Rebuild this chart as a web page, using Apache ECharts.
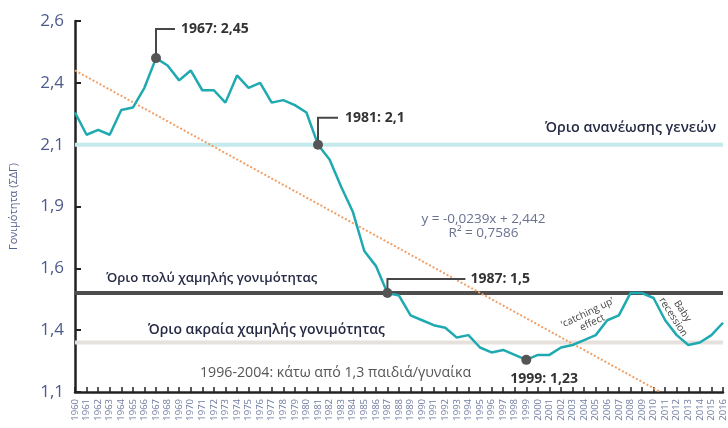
<!DOCTYPE html>
<html><head><meta charset="utf-8">
<script src="https://cdn.jsdelivr.net/npm/echarts@6/dist/echarts.min.js"></script>
<style>html,body{margin:0;padding:0;background:#fff}#c{width:728px;height:428px}</style>
</head><body><div id="c"></div>
<script>
// ---- data ----
const years = [1960,1961,1962,1963,1964,1965,1966,1967,1968,1969,
  1970,1971,1972,1973,1974,1975,1976,1977,1978,1979,
  1980,1981,1982,1983,1984,1985,1986,1987,1988,1989,
  1990,1991,1992,1993,1994,1995,1996,1997,1998,1999,
  2000,2001,2002,2003,2004,2005,2006,2007,2008,2009,
  2010,2011,2012,2013,2014,2015,2016];
const tfr = [2.23,2.14,2.16,2.14,2.24,2.25,2.33,2.45,2.42,2.36,
  2.40,2.32,2.32,2.27,2.38,2.33,2.35,2.27,2.28,2.26,
  2.23,2.10,2.04,1.93,1.83,1.67,1.61,1.50,1.49,1.41,
  1.39,1.37,1.36,1.32,1.33,1.28,1.26,1.27,1.25,1.23,
  1.25,1.25,1.28,1.29,1.31,1.33,1.39,1.41,1.50,1.50,
  1.48,1.39,1.33,1.29,1.30,1.33,1.38];
const yTickLabels = ['1,1','1,4','1,6','1,9','2,1','2,4','2,6'];
const thresholdValues = [2.1, 1.5, 1.3];
const thresholdLabels = ['Όριο ανανέωσης γενεών','Όριο πολύ χαμηλής γονιμότητας','Όριο ακραία χαμηλής γονιμότητας'];
const trendX = [1960, 2010.6];
const trendY = [2.40, 1.10];
const calloutYears = [1967, 1981, 1987, 1999];
const calloutValues = [2.45, 2.10, 1.50, 1.23];
const calloutLabels = ['1967: 2,45','1981: 2,1','1987: 1,5','1999: 1,23'];
const trendText = 'y = -0,0239x + 2,442\nR² = 0,7586';
const periodText = '1996-2004: κάτω από 1,3 παιδιά/γυναίκα';
const catchText = '\u2018catching up\u2019\neffect';
const babyText = 'Baby\nrecession';

// ---- styles ----
const FONT = '"Open Sans", "Noto Sans", sans-serif';
const thresholdColors = ['#c4eaec', '#4d4d4d', '#e6e1dc'];
const calloutStyle = [
  {rise: 29, run: 19, tx: 25, ty: -29},
  {rise: 27, run: 20, tx: 27, ty: -27},
  {rise: 14, run: 78, tx: 83, ty: -14},
  {rise: 0, run: 0, tx: -16, ty: 19}
];

const chart = echarts.init(document.getElementById('c'), null, {renderer: 'canvas'});
const series = [];
thresholdValues.forEach((v, i) => {
  series.push({
    type: 'line', silent: true, symbol: 'none', z: 1,
    data: [[years[0], v], [years[years.length - 1], v]],
    lineStyle: {color: thresholdColors[i], width: 4}
  });
});
series.push({
  type: 'line', silent: true, symbol: 'none', z: 2,
  data: trendX.map((x, i) => [x, trendY[i]]),
  lineStyle: {color: '#f0a066', width: 2, type: [2, 2]}
});
series.push({
  type: 'line', symbol: 'none', z: 3,
  data: years.map((y, i) => [y, tfr[i]]),
  lineStyle: {color: '#1fa9b0', width: 2.5}
});
series.push({
  type: 'custom', z: 4,
  data: calloutYears.map((y, i) => [y, calloutValues[i]]),
  renderItem: function (params, api) {
    const i = params.dataIndex;
    const p = api.coord([api.value(0), api.value(1)]);
    const c = calloutStyle[i];
    const ch = [];
    if (c.rise) {
      ch.push({type: 'polyline', shape: {points: [[p[0], p[1]], [p[0], p[1] - c.rise], [p[0] + c.run, p[1] - c.rise]]},
        style: {stroke: '#474747', lineWidth: 2, fill: null}});
    }
    ch.push({type: 'circle', shape: {cx: p[0], cy: p[1], r: 5}, style: {fill: '#555555'}});
    ch.push({type: 'text', x: p[0] + c.tx, y: p[1] + c.ty,
      style: {text: calloutLabels[i], fontFamily: FONT, fontWeight: 'bold', fontSize: 14, fill: '#333', align: 'left', verticalAlign: 'middle'}});
    return {type: 'group', children: ch};
  }
});

chart.setOption({
  animation: false,
  backgroundColor: '#ffffff',
  grid: {left: 74, right: 3, top: 21, bottom: 36, containLabel: false},
  xAxis: {
    type: 'value', min: years[0], max: years[years.length - 1], interval: 1,
    axisLine: {show: true, lineStyle: {color: '#222', width: 2.5}},
    axisTick: {show: true, inside: true, length: 5, lineStyle: {color: '#222', width: 1.5}},
    axisLabel: {rotate: 90, fontSize: 9.5, color: '#6f7ba0', fontFamily: FONT, margin: 7, formatter: v => String(v), showMaxLabel: true, showMinLabel: true},
    splitLine: {show: false}
  },
  yAxis: {
    type: 'value', min: 1.1, max: 2.6, interval: 0.25,
    name: 'Γονιμότητα (ΣΔΓ)', nameLocation: 'middle', nameGap: 56,
    nameTextStyle: {color: '#55628f', fontSize: 11, fontFamily: FONT},
    axisLine: {show: true, lineStyle: {color: '#222', width: 2.5}},
    axisTick: {show: true, inside: true, length: 6, lineStyle: {color: '#222', width: 2}},
    axisLabel: {fontSize: 17, color: '#4d5b8c', fontFamily: FONT, margin: 11, formatter: (v, i) => yTickLabels[i]},
    splitLine: {show: false}
  },
  series: series
});

const px = (x, y) => chart.convertToPixel({gridIndex: 0}, [x, y]);
const tStyle = (text, o) => Object.assign({text: text, fontFamily: FONT}, o);
const g = [];
let p;
p = px(2015.4, thresholdValues[0]);
g.push({type: 'text', x: p[0], y: p[1] - 17, style: tStyle(thresholdLabels[0], {fontSize: 14.3, fontWeight: 600, fill: '#262a44', align: 'right', verticalAlign: 'middle'})});
p = px(1962.7, thresholdValues[1]);
g.push({type: 'text', x: p[0], y: p[1] - 15, style: tStyle(thresholdLabels[1], {fontSize: 13.2, fontWeight: 600, fill: '#262a44', align: 'left', verticalAlign: 'middle'})});
p = px(1966.3, thresholdValues[2]);
g.push({type: 'text', x: p[0], y: p[1] - 13, style: tStyle(thresholdLabels[2], {fontSize: 14, fontWeight: 600, fill: '#262a44', align: 'left', verticalAlign: 'middle'})});
p = px(1970.8, 1.176);
g.push({type: 'text', x: p[0], y: p[1], style: tStyle(periodText, {fontSize: 14.2, fill: '#555', align: 'left', verticalAlign: 'middle'})});
p = px(1995.3, 1.77);
g.push({type: 'text', x: p[0], y: p[1], style: tStyle(trendText, {fontSize: 13.5, fill: '#6a7190', align: 'center', verticalAlign: 'middle', lineHeight: 14})});
p = px(2004.5, 1.40);
g.push({type: 'text', x: p[0], y: p[1], rotation: 0.45, style: tStyle(catchText, {fontSize: 10, fill: '#444', align: 'center', verticalAlign: 'middle', lineHeight: 11})});
p = px(2012.1, 1.415);
g.push({type: 'text', x: p[0], y: p[1], rotation: -1.0, style: tStyle(babyText, {fontSize: 10, fill: '#444', align: 'center', verticalAlign: 'middle', lineHeight: 11})});
chart.setOption({graphic: g});
</script>
</body></html>
